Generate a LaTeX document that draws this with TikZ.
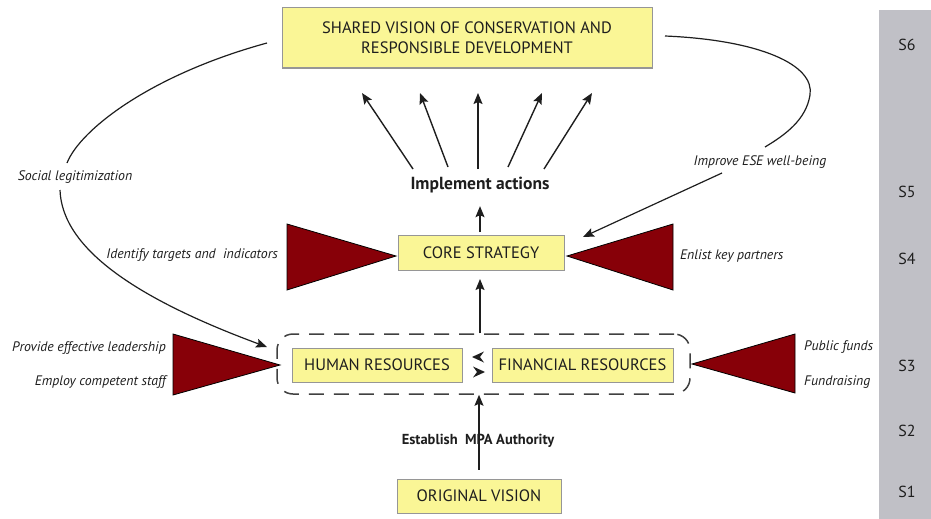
\documentclass[tikz,border=0pt]{standalone}
\usepackage{fontspec}
\setmainfont{PT Sans}
\usetikzlibrary{arrows.meta}
\definecolor{boxyellow}{RGB}{250,246,150}
\definecolor{boxedge}{RGB}{150,150,150}
\definecolor{tri}{RGB}{135,0,8}
\definecolor{bar}{RGB}{192,192,198}
\definecolor{ink}{RGB}{30,30,30}
\tikzset{
  ybox/.style={draw=boxedge, line width=1pt, fill=boxyellow, text=ink, inner sep=0pt, font=\fontsize{16.5}{20}\selectfont, align=center},
  arr/.style={draw=ink, line width=1.4pt, -{Stealth[length=11pt,width=9pt,inset=2pt]}},
  curve/.style={draw=ink, line width=1.2pt},
  lab/.style={text=ink, font=\fontsize{13.8}{15}\selectfont\itshape, inner sep=1pt},
  redtri/.style={fill=tri, draw=black, line width=0.8pt},
  slab/.style={text=ink, font=\fontsize{16}{18}\selectfont},
  xhead/.style={fill=ink}
}
\begin{document}
\begin{tikzpicture}[x=1pt,y=-1pt]
\useasboundingbox (0,0) rectangle (931,519);
% gray stage bar
\fill[bar] (879,10) rectangle (931,519);
\node[slab] (s6) at (907,45) {S6};
\node[slab] (s5) at (907,192) {S5};
\node[slab] (s4) at (907,259) {S4};
\node[slab] (s3) at (907,366) {S3};
\node[slab] (s2) at (907,431) {S2};
\node[slab] (s1) at (907,492) {S1};

% boxes
\node[ybox, minimum width=370pt, minimum height=60pt] (top) at (467,38) {SHARED VISION OF CONSERVATION AND\\RESPONSIBLE DEVELOPMENT};
\node[ybox, minimum width=166pt, minimum height=35pt] (core) at (481,253) {CORE STRATEGY};
\node[draw=ink!85, line width=1.5pt, dash pattern=on 15pt off 10pt, rounded corners=16pt, minimum width=413pt, minimum height=60pt] (group) at (483.5,364) {};
\node[ybox, minimum width=170pt, minimum height=34pt] (hr) at (377,365) {HUMAN RESOURCES};
\node[ybox, minimum width=181pt, minimum height=34pt] (fr) at (582.5,365) {FINANCIAL RESOURCES};
\node[ybox, minimum width=164pt, minimum height=34pt] (orig) at (479,496) {ORIGINAL VISION};

% red triangles
\draw[redtri] (287,224) -- (396,256) -- (287,290) -- cycle;
\draw[redtri] (673,224) -- (567,256) -- (673,290) -- cycle;
\draw[redtri] (173,334) -- (280,365) -- (173,395) -- cycle;
\draw[redtri] (795,334) -- (692,364) -- (795,393) -- cycle;

% labels
\node[lab, anchor=east] (lid) at (279,255) {Identify targets and\ \ indicators};
\node[lab, anchor=west] (len) at (679,256) {Enlist key partners};
\node[lab, anchor=east] (lpr) at (167,348) {Provide effective leadership};
\node[lab, anchor=east] (lem) at (167,382) {Employ competent staff};
\node[lab, anchor=west] (lpu) at (803,347) {Public funds};
\node[lab, anchor=west] (lfu) at (803,382) {Fundraising};
\node[lab] (lsoc) at (75,177) {Social legitimization};
\node[lab] (lese) at (760,162) {Improve ESE well-being};

% implement actions
\node[text=ink, font=\fontsize{17.5}{19}\selectfont\bfseries, inner sep=1pt] (impl) at (480,185) {Implement actions};
\node[text=ink, font=\fontsize{14.5}{16}\selectfont\bfseries, fill=white, inner sep=2pt] (est) at (478,441) {Establish\ \ MPA Authority};

% vertical arrows
\draw[arr, shorten <=9pt] (orig.north) -- (orig.north |- group.south);
\draw[arr, shorten >=8pt] (group.north -| impl.south) -- (impl.south |- core.south);
\draw[arr, shorten <=3pt, shorten >=12pt] (core.north -| impl.south) -- (impl.south);

% fan arrows
\coordinate (a1) at (413,169); \coordinate (b1) at (362,93);
\coordinate (a2) at (448,167); \coordinate (b2) at (420,93);
\coordinate (a3) at (478,169); \coordinate (b3) at (478,93);
\coordinate (a4) at (508,167); \coordinate (b4) at (542,93);
\coordinate (a5) at (544,169); \coordinate (b5) at (592,93);
\foreach \i in {1,...,5} \draw[arr] (a\i) -- (b\i);

% exchange arrowheads
\fill[xhead] (472,357) -- (484,351.5) -- (480,357) -- (484,362.5) -- cycle;
\fill[xhead] (485,372) -- (473,366.5) -- (477,372) -- (473,377.5) -- cycle;

% left feedback curve
\coordinate (l0) at (267,43);
\coordinate (l1) at (67,163);
\coordinate (l2) at (60,190);
\coordinate (l3) at (267,347);
\draw[curve] (l0) .. controls (150,75) and (80,130) .. (l1);
\draw[curve, -{Stealth[length=11pt,width=9pt,inset=2pt]}] (l2) .. controls (62,250) and (140,300) .. (l3);

% right feedback curve
\coordinate (r0) at (665,36);
\coordinate (rm) at (810,95);
\coordinate (r1) at (765,147);
\coordinate (r2) at (722,173);
\coordinate (r3) at (583,237);
\draw[curve] (r0) .. controls (760,40) and (815,65) .. (rm) .. controls (806,120) and (785,135) .. (r1);
\draw[curve, -{Stealth[length=11pt,width=9pt,inset=2pt]}] (r2) -- (r3);
\end{tikzpicture}
\end{document}
